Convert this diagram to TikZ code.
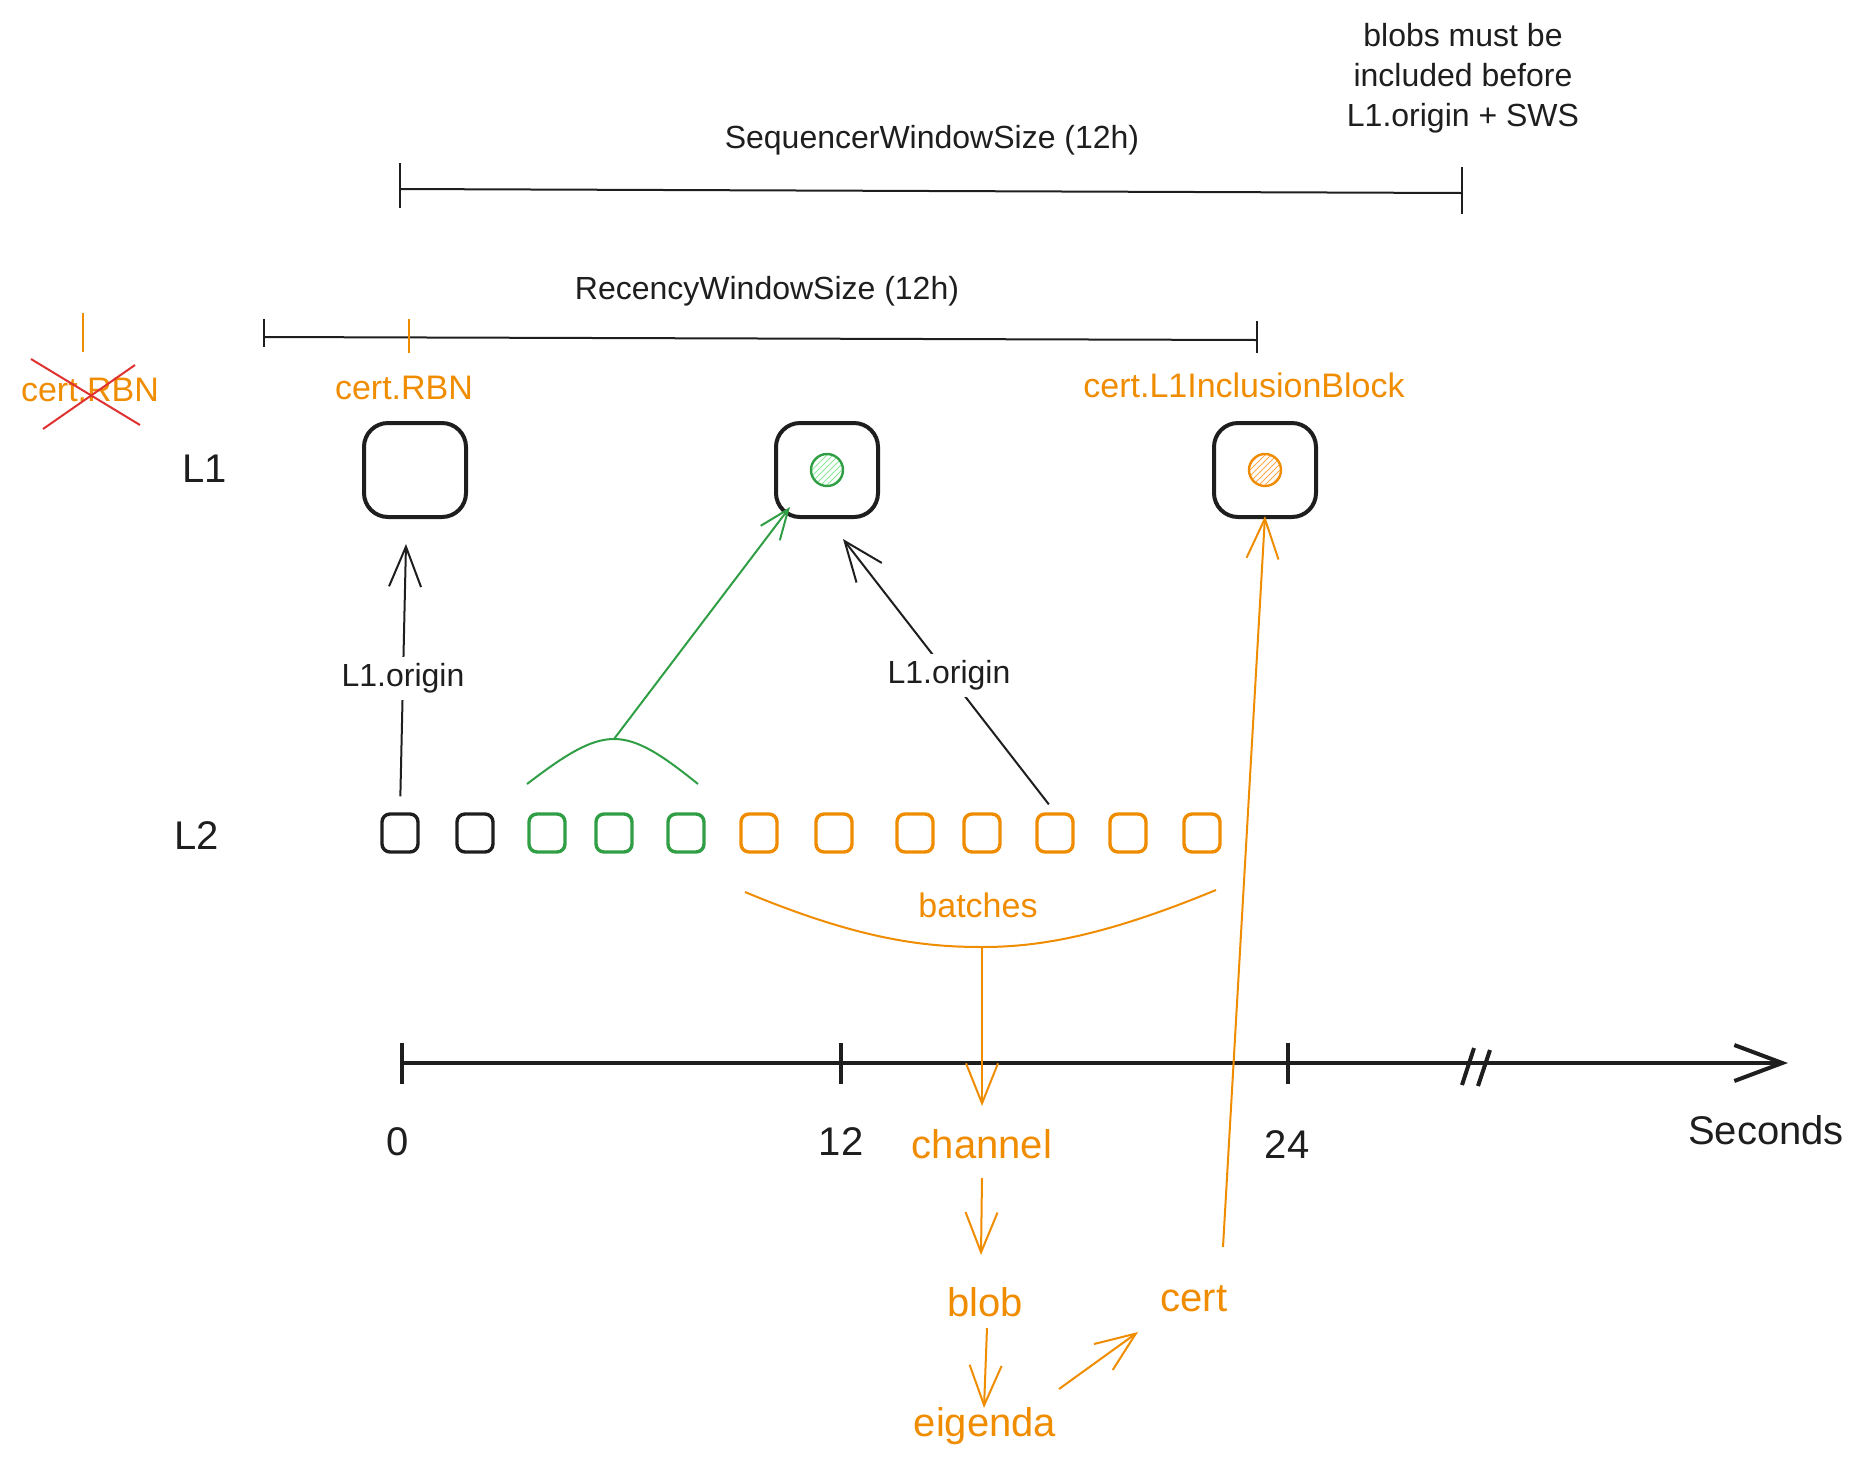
\documentclass[tikz,border=0pt]{standalone}
\usepackage{fontspec}
\setmainfont{Liberation Sans}
\usetikzlibrary{arrows.meta,patterns}
\definecolor{ink}{HTML}{1E1E1E}
\definecolor{exorange}{HTML}{F08C00}
\definecolor{exgreen}{HTML}{2F9E44}
\definecolor{exred}{HTML}{E03131}
\definecolor{hatchgreen}{HTML}{8CE99A}
\definecolor{hatchorange}{HTML}{FFA94D}
\begin{document}
\begin{tikzpicture}[x=0.5pt,y=-0.5pt,>={Straight Barb[length=20pt,width=16pt]},
  lbl/.style={font=\fontsize{16}{20}\selectfont, text=ink, align=center},
  big/.style={font=\fontsize{20}{24}\selectfont, text=ink},
  olbl/.style={font=\fontsize{17}{20}\selectfont, text=exorange},
  obig/.style={font=\fontsize{20}{24}\selectfont, text=exorange},
  blockone/.style={draw=ink, line width=2pt, rounded corners=12pt, minimum width=51pt, minimum height=47pt},
  blocktwo/.style={draw=#1, line width=1.7pt, rounded corners=4pt, minimum width=18pt, minimum height=19pt, inner sep=0pt},
  thinline/.style={ink, line width=1pt},
  link/.style={->, line width=1pt}]
\useasboundingbox (0,0) rectangle (1865,1474);
{\centering
\node[lbl] (note) at (1463,78) {blobs must be\\included before\\L1.origin + SWS};
\node[lbl] (seqlbl) at (932,140) {SequencerWindowSize (12h)};
\coordinate (sws0) at (400,189);
\coordinate (sws1) at (1462,193);
\draw[thinline] (sws0) -- (sws1);
\draw[thinline] (400,163) -- (400,208);
\draw[thinline] (1462,167) -- (1462,214);

\node[lbl] (reclbl) at (767,291) {RecencyWindowSize (12h)};
\coordinate (rws0) at (264,337);
\coordinate (rws1) at (1257,340);
\draw[thinline] (rws0) -- (rws1);
\draw[thinline] (264,319) -- (264,347);
\draw[thinline] (1257,321) -- (1257,353);
\draw[exorange, line width=1pt] (409,319) -- (409,353);
\draw[exorange, line width=1pt] (83,313) -- (83,352);

\node[olbl] (oldrbn) at (90,390) {cert.RBN};
\draw[exred, line width=1pt] (31,359) -- (140,425);
\draw[exred, line width=1pt] (135,365) -- (43,429);
\node[olbl] (rbn) at (404,388) {cert.RBN};
\node[olbl] (inclbl) at (1244,385) {cert.L1InclusionBlock};

\node[big] (lone) at (205,469) {L1};
\node[big] (ltwo) at (197,836) {L2};

\node[blockone] (l1a) at (415,470) {};
\node[blockone] (l1b) at (827,470) {};
\node[blockone] (l1c) at (1265,470) {};
\node[circle, draw=exgreen, line width=1.2pt, minimum size=16pt, pattern=north east lines, pattern color=hatchgreen] (gdot) at (l1b.center) {};
\node[circle, draw=exorange, line width=1.2pt, minimum size=16pt, pattern=north east lines, pattern color=hatchorange] (odot) at (l1c.center) {};

\foreach \bx/\bc [count=\i] in {400/ink,475/ink,547/exgreen,614/exgreen,686/exgreen,759/exorange,834/exorange,915/exorange,982/exorange,1055/exorange,1128/exorange,1202/exorange}
  \node[blocktwo=\bc] (slot\i) at (\bx,833) {};

\draw[link, ink, shorten <=8pt] (slot1.north) -- node[lbl, fill=white] (orig1) {L1.origin} ([shift={(-9,25)}]l1a.south);
\draw[link, ink, shorten <=5pt] (slot10.north) -- node[lbl, fill=white] (orig2) {L1.origin} ([shift={(16,20)}]l1b.south);

\coordinate (gl) at (527,784);
\coordinate (gr) at (698,784);
\coordinate (gpeak) at (614,739);
\draw[exgreen, line width=1pt] (gl) .. controls (565,755) and (590,739) .. (gpeak) .. controls (638,739) and (662,755) .. (gr);
\draw[link, exgreen, >={Straight Barb[length=15pt,width=12pt]}] (gpeak) -- ([shift={(16,-12)}]l1b.south west);

\coordinate (ol) at (745,892);
\coordinate (or) at (1216,890);
\coordinate (obot) at (982,947);
\draw[exorange, line width=1pt] (ol) .. controls (860,940) and (925,947) .. (obot) .. controls (1035,947) and (1100,938) .. (or);
\node[olbl] (batches) at (978,905) {batches};

\coordinate (t0) at (402,1063);
\coordinate (t12) at (841,1063);
\coordinate (t24) at (1288,1063);
\coordinate (tend) at (1788,1063);
\draw[->, ink, line width=2pt, >={Straight Barb[length=24pt,width=18pt]}] (t0) -- (tend);
\foreach \t in {t0,t12,t24}
  \draw[ink, line width=2pt] ([shift={(0,-20)}]\t) -- ([shift={(0,21)}]\t);
\draw[ink, line width=2pt] (1474,1048) -- (1462,1085);
\draw[ink, line width=2pt] (1490,1050) -- (1478,1086);
\node[big] (n0) at (398,1142) {0};
\node[big] (n12) at (841,1142) {12};
\node[big] (n24) at (1287,1145) {24};
\node[big] (secs) at (1766,1130) {Seconds};

\node[obig] (channel) at (982,1144) {channel};
\node[obig] (blob) at (985,1302) {blob};
\node[obig] (eigenda) at (985,1426) {eigenda};
\node[obig] (cert) at (1194,1299) {cert};

\draw[link, exorange] (obot) -- ([shift={(0,-38)}]channel.center);
\draw[link, exorange] ([shift={(0,34)}]channel.center) -- ([shift={(-4,-47)}]blob.center);
\draw[link, exorange] ([shift={(2,26)}]blob.center) -- ([shift={(-1,-18)}]eigenda.center);
\draw[link, exorange] ([shift={(74,-37)}]eigenda.center) -- ([shift={(-56,33)}]cert.center);
\draw[link, exorange] ([shift={(29,-52)}]cert.center) -- ([shift={(0,-3)}]l1c.south);
}
\end{tikzpicture}
\end{document}
